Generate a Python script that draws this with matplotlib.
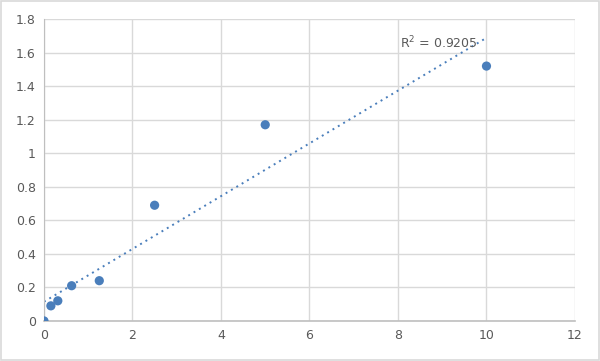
import matplotlib.pyplot as plt
import numpy as np

# concentration vs OD readings
conc = [0, 0.156, 0.3125, 0.625, 1.25, 2.5, 5, 10]
od = [0.0, 0.09, 0.12, 0.21, 0.24, 0.69, 1.17, 1.52]
xTicks = [0, 2, 4, 6, 8, 10, 12]
yTicks = [0, 0.2, 0.4, 0.6, 0.8, 1, 1.2, 1.4, 1.6, 1.8]
r2Label = "R$^2$ = 0.9205"

fig = plt.figure(figsize=(6, 3.61), dpi=100)
ax = fig.add_axes([0.0733, 0.111, 0.885, 0.836])

# linear trendline
slope, intercept = np.polyfit(conc, od, 1)
xs = np.array([min(conc), max(conc)])
ax.plot(xs, slope * xs + intercept, linestyle=(0, (1, 2.2)), color='#4a7ebb', linewidth=1.4, zorder=2)

ax.scatter(conc, od, s=44, color='#4a7ebb', zorder=3, edgecolors='none')

ax.set_xlim(0, 12)
ax.set_ylim(0, 1.8)
ax.set_xticks(xTicks)
ax.set_xticklabels([str(t) for t in xTicks])
ax.set_yticks(yTicks)
ax.set_yticklabels(["0", "0.2", "0.4", "0.6", "0.8", "1", "1.2", "1.4", "1.6", "1.8"])
ax.tick_params(length=0, labelsize=9, labelcolor='#595959', pad=6)
ax.grid(True, color='#d9d9d9', linewidth=1)
ax.set_axisbelow(True)
for side in ['top', 'right']:
    ax.spines[side].set_visible(False)
ax.spines['left'].set_color('#bfbfbf')
ax.spines['bottom'].set_color('#bfbfbf')
ax.spines['bottom'].set_linewidth(1.2)

ax.text(8.05, 1.66, r2Label, fontsize=9, color='#595959', va='center', ha='left')

# outer frame
fig.patches.append(plt.Rectangle((0.002, 0.003), 0.996, 0.994, transform=fig.transFigure,
                                 fill=False, edgecolor='#d9d9d9', linewidth=1.2))

fig.savefig("out.png", dpi=100)
